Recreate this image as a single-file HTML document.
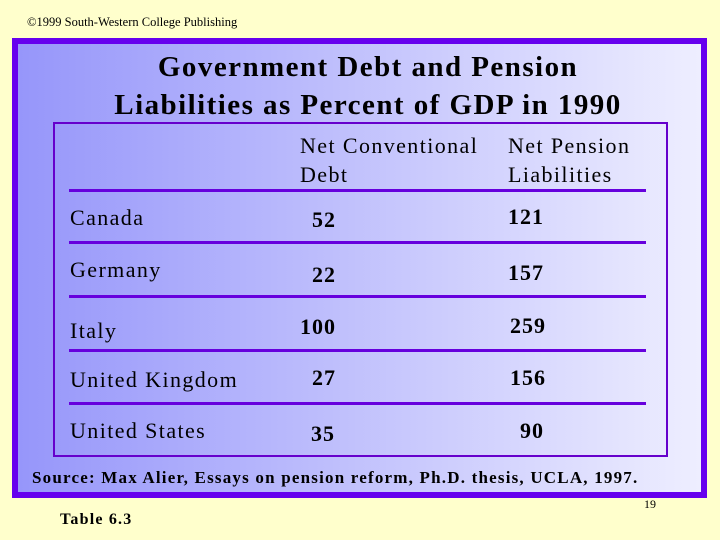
<!DOCTYPE html>
<html><head><meta charset="utf-8"><style>
body{margin:0;width:720px;height:540px;background:#FFFFCC;position:relative;overflow:hidden;font-family:"Liberation Serif",serif;color:#000}
.a{position:absolute;white-space:nowrap}
.t{font-size:22px;line-height:22px;letter-spacing:1.4px}
.n{font-weight:bold;letter-spacing:1px}
.hl{position:absolute;left:69px;width:577px;height:3px;background:#6600DD}
</style></head><body>
<div class="a" style="left:27px;top:15px;font-size:12.5px">©1999 South-Western College Publishing</div>
<div class="a" style="left:12px;top:38px;width:683px;height:448px;border:6px solid #6600EE;background:linear-gradient(to right,#9696FA,#EEEEFF)"></div>
<div class="a" style="left:0;width:736px;top:48px;text-align:center;font-weight:bold;font-size:29px;line-height:38px;letter-spacing:1.45px">Government Debt and Pension<br>Liabilities as Percent of GDP in 1990</div>
<div class="a" style="left:53px;top:122px;width:611px;height:331px;border:2px solid #6600CC"></div>
<div class="a t" style="left:300px;top:131px;line-height:29px">Net Conventional<br>Debt</div>
<div class="a t" style="left:508px;top:131px;line-height:29px">Net Pension<br>Liabilities</div>
<div class="hl" style="top:189px"></div>
<div class="hl" style="top:241px"></div>
<div class="hl" style="top:295px"></div>
<div class="hl" style="top:349px"></div>
<div class="hl" style="top:402px"></div>
<div class="a t" style="left:70px;top:207px">Canada</div>
<div class="a t n" style="left:312px;top:209px">52</div>
<div class="a t n" style="left:508px;top:206px">121</div>
<div class="a t" style="left:70px;top:259px">Germany</div>
<div class="a t n" style="left:312px;top:264px">22</div>
<div class="a t n" style="left:508px;top:262px">157</div>
<div class="a t" style="left:70px;top:320px">Italy</div>
<div class="a t n" style="left:300px;top:316px">100</div>
<div class="a t n" style="left:510px;top:315px">259</div>
<div class="a t" style="left:70px;top:369px">United Kingdom</div>
<div class="a t n" style="left:312px;top:367px">27</div>
<div class="a t n" style="left:510px;top:367px">156</div>
<div class="a t" style="left:70px;top:420px">United States</div>
<div class="a t n" style="left:311px;top:423px">35</div>
<div class="a t n" style="left:520px;top:420px">90</div>
<div class="a" style="left:32px;top:468px;font-size:17px;font-weight:bold;letter-spacing:1.2px">Source: Max Alier, Essays on pension reform, Ph.D. thesis, UCLA, 1997.</div>
<div class="a" style="left:644px;top:497px;font-size:12px">19</div>
<div class="a" style="left:60px;top:511px;font-size:16px;font-weight:bold;letter-spacing:1.2px">Table 6.3</div>
</body></html>
